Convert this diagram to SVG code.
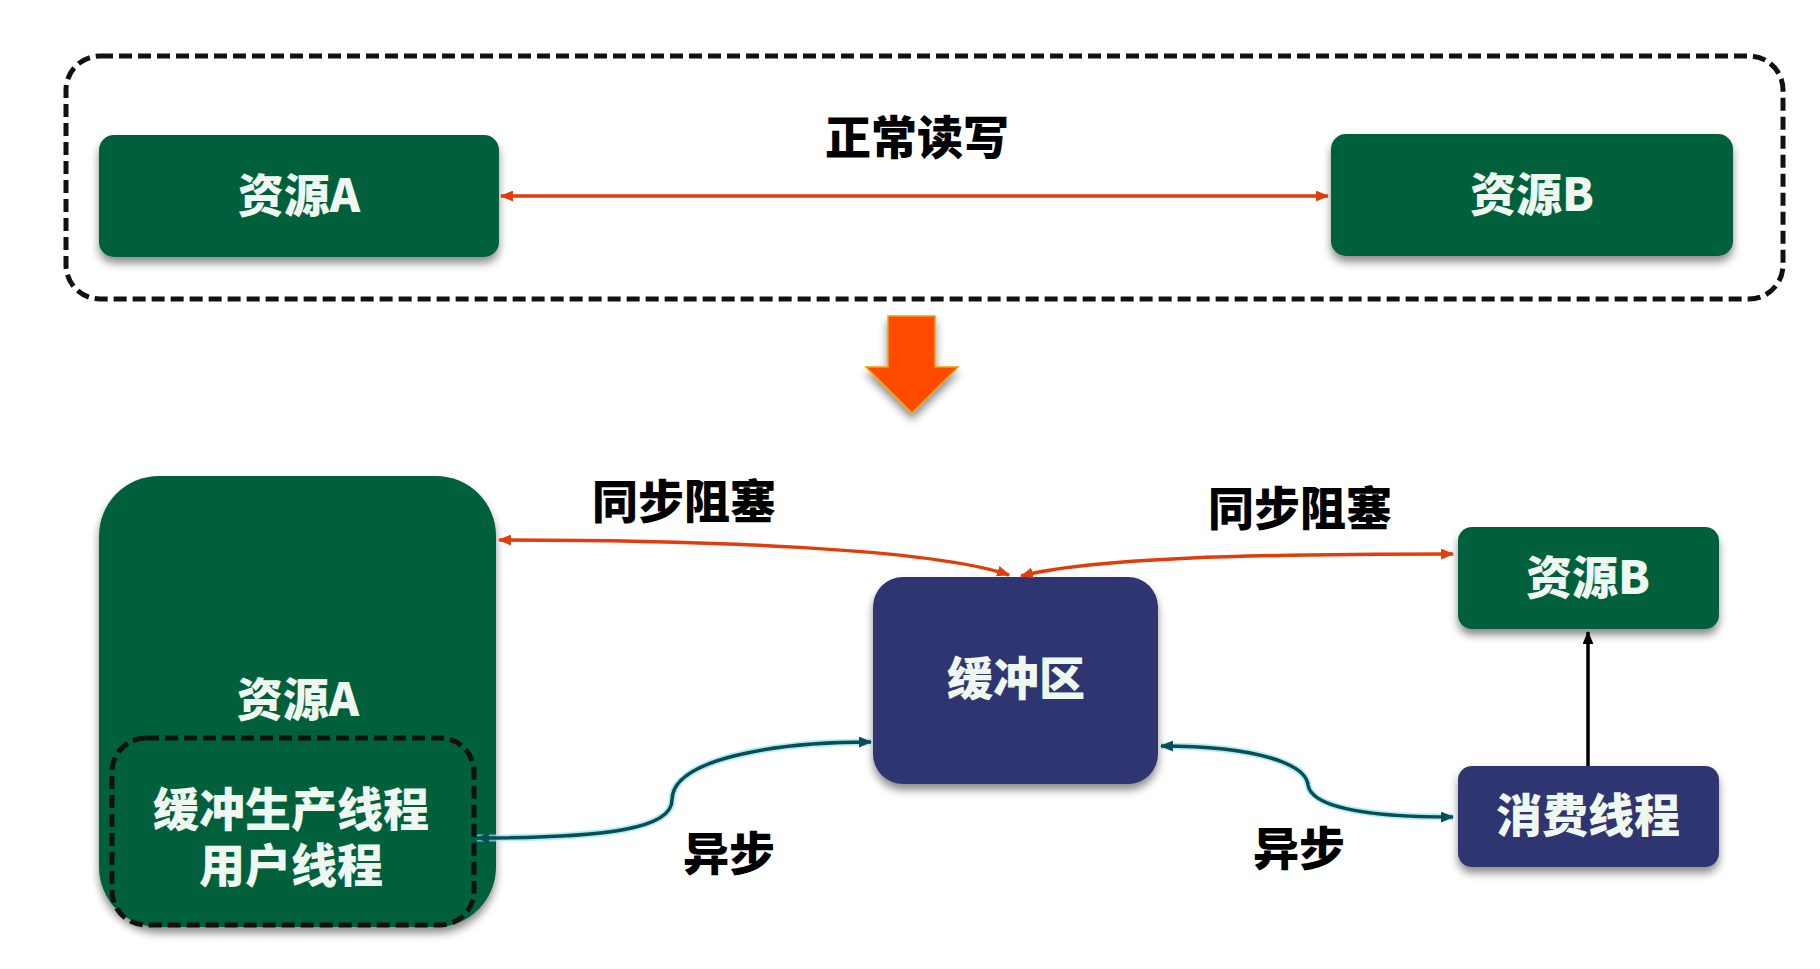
<svg xmlns="http://www.w3.org/2000/svg" width="1820" height="969" viewBox="0 0 1820 969">
<style>
.lbl{font-family:"Noto Sans CJK SC","Noto Sans",sans-serif;font-weight:900;font-size:46px;text-anchor:middle;dominant-baseline:central}
.wt{fill:#eef8f1}
.bk{fill:#000}
.green{fill:#03613a}
.navy{fill:#2d356f}
.dash{fill:none;stroke:#111;stroke-width:5;stroke-dasharray:13 6}
.red{fill:none;stroke:#e23c0b;stroke-width:3.5}
.tealglow{fill:none;stroke:#8ee8ea;stroke-width:7;opacity:0.7}
.teal{fill:none;stroke:#0b4c56;stroke-width:3.5}
</style>
<defs>
<filter id="sh" x="-10%" y="-10%" width="120%" height="130%">
<feDropShadow dx="0" dy="6" stdDeviation="4" flood-color="#000" flood-opacity="0.45"/>
</filter>
<marker id="mr" viewBox="0 0 12 10" refX="11" refY="5" markerWidth="13" markerHeight="11" markerUnits="userSpaceOnUse" orient="auto-start-reverse">
<path d="M0,0 L12,5 L0,10 z" fill="#e23c0b"/>
</marker>
<marker id="mt" viewBox="0 0 12 10" refX="11" refY="5" markerWidth="13" markerHeight="11" markerUnits="userSpaceOnUse" orient="auto-start-reverse">
<path d="M0,0 L12,5 L0,10 z" fill="#0b4c56"/>
</marker>
<marker id="mb" viewBox="0 0 12 10" refX="11" refY="5" markerWidth="13" markerHeight="11" markerUnits="userSpaceOnUse" orient="auto">
<path d="M0,0 L12,5 L0,10 z" fill="#000"/>
</marker>
</defs>
<rect width="1820" height="969" fill="#fff"/>

<g id="top-frame">
<rect class="dash" x="66" y="56" width="1717" height="243" rx="34"/>
</g>

<g id="top-resA">
<rect class="green" x="99" y="135" width="400" height="122" rx="15" filter="url(#sh)"/>
<text class="lbl wt" x="299" y="192">资源A</text>
</g>
<g id="top-resB">
<rect class="green" x="1331" y="134" width="402" height="122" rx="15" filter="url(#sh)"/>
<text class="lbl wt" x="1532" y="191">资源B</text>
</g>

<g id="big-arrow">
<polygon points="888,316 935,316 935,367 958,367 912,413 866,367 888,367" fill="#ff4b00" stroke="#f2a200" stroke-width="1.5" filter="url(#sh)"/>
</g>

<g id="resA-big">
<rect class="green" x="99" y="476" width="397" height="451" rx="60" filter="url(#sh)"/>
<text class="lbl wt" x="298" y="696">资源A</text>
</g>
<g id="producer">
<rect class="dash" x="112" y="738" width="362" height="187" rx="34"/>
<text class="lbl wt"><tspan x="291" y="806">缓冲生产线程</tspan><tspan x="291" y="862">用户线程</tspan></text>
</g>

<g id="buffer">
<rect class="navy" x="873" y="577" width="285" height="207" rx="30" filter="url(#sh)"/>
<text class="lbl wt" x="1016" y="675">缓冲区</text>
</g>
<g id="resB-bottom">
<rect class="green" x="1458" y="527" width="261" height="102" rx="14" filter="url(#sh)"/>
<text class="lbl wt" x="1588" y="574">资源B</text>
</g>
<g id="consumer">
<rect class="navy" x="1458" y="766" width="261" height="101" rx="14" filter="url(#sh)"/>
<text class="lbl wt" x="1588" y="812">消费线程</text>
</g>

<g id="connectors">
<line class="red" x1="501" y1="196" x2="1328" y2="196" marker-start="url(#mr)" marker-end="url(#mr)"/>
<path class="red" d="M499,540 C700,540 930,548 1009,575" marker-start="url(#mr)" marker-end="url(#mr)"/>
<path class="red" d="M1021,576 C1090,558 1250,554 1453,554" marker-start="url(#mr)" marker-end="url(#mr)"/>
<path class="tealglow" d="M477,838 C610,838 672,828 672,800 C672,760 770,742 871,742"/>
<path class="teal" d="M477,838 C610,838 672,828 672,800 C672,760 770,742 871,742" marker-start="url(#mt)" marker-end="url(#mt)"/>
<path class="tealglow" d="M1161,746 C1260,746 1306,765 1308,785 C1312,810 1380,817 1453,817"/>
<path class="teal" d="M1161,746 C1260,746 1306,765 1308,785 C1312,810 1380,817 1453,817" marker-start="url(#mt)" marker-end="url(#mt)"/>
<line x1="1588" y1="766" x2="1588" y2="632" stroke="#000" stroke-width="3.5" marker-end="url(#mb)"/>
</g>

<g id="labels">
<text class="lbl bk" x="917" y="134">正常读写</text>
<text class="lbl bk" x="684" y="498">同步阻塞</text>
<text class="lbl bk" x="1300" y="505">同步阻塞</text>
<text class="lbl bk" x="729" y="850">异步</text>
<text class="lbl bk" x="1299" y="845">异步</text>
</g>
</svg>
